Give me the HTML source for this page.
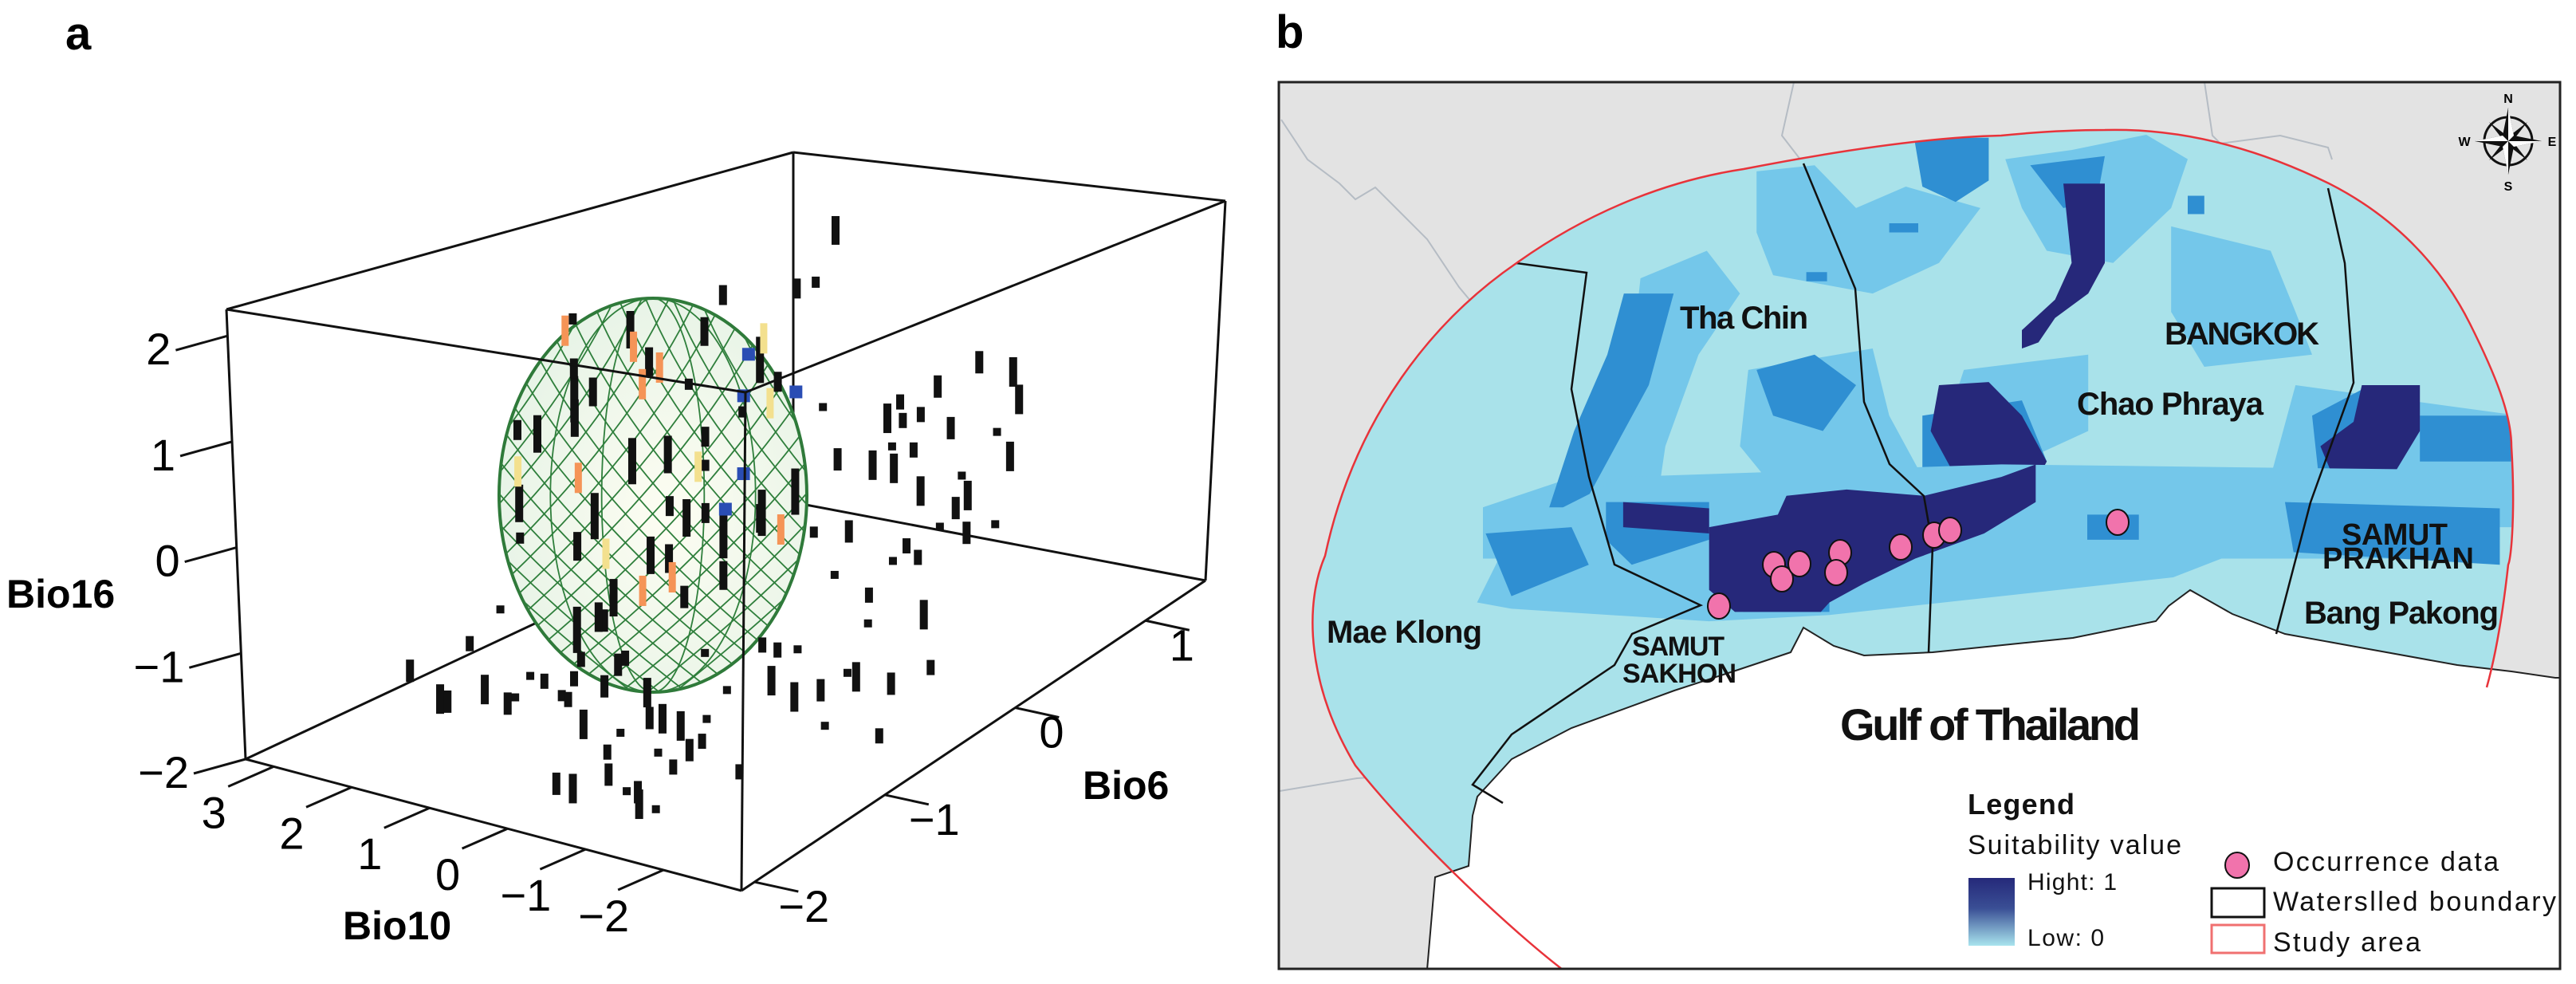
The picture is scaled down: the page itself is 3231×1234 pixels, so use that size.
<!DOCTYPE html>
<html><head><meta charset="utf-8"><style>
html,body{margin:0;padding:0;background:#fff}
svg{display:block}
text{font-family:"Liberation Sans",Arial,sans-serif}
</style></head><body>
<svg id="fig" width="3231" height="1234" viewBox="0 0 3231 1234" xmlns="http://www.w3.org/2000/svg">
<defs>
<clipPath id="ellClip"><ellipse cx="819" cy="621" rx="193" ry="247"/></clipPath>
<radialGradient id="ellFill" cx="0.55" cy="0.55" r="0.6"><stop offset="0" stop-color="#fdfdf2"/><stop offset="1" stop-color="#e6f3e6"/></radialGradient>
<linearGradient id="legGrad" x1="0" y1="0" x2="0" y2="1"><stop offset="0" stop-color="#25297a"/><stop offset="0.45" stop-color="#3a4f95"/><stop offset="1" stop-color="#a9e4ee"/></linearGradient>
<clipPath id="mapClip"><rect x="1604" y="103" width="1607" height="1112"/></clipPath>
<clipPath id="circClip"><path d="M1960,1216 C1900,1170 1780,1060 1700,960 C1640,860 1635,760 1662,697 C1700,520 1800,400 1902,330 C2000,260 2100,225 2187,212 C2300,190 2420,172 2510,170 C2560,165 2600,163 2640,163 C2760,160 2860,200 2921,230 C3000,270 3060,330 3098,406 C3130,470 3150,520 3150,560 C3155,640 3150,700 3146,708 C3138,780 3128,830 3119,862 L3231,1234 Z"/></clipPath>
</defs>

<!-- ================= PANEL A ================= -->
<g id="panelA">
<text x="82" y="62" font-size="58" font-weight="bold">a</text>
<g id="boxBack" stroke="#111" stroke-width="3" fill="none"></g>
<g id="ellipsoid"></g>
<g id="dotsA"></g>
<g id="boxFront" stroke="#111" stroke-width="3" fill="none"></g>
<g id="axesA"></g>
<text x="8" y="762" font-size="50" font-weight="bold">Bio16</text>
<text x="430" y="1178" font-size="50" font-weight="bold">Bio10</text>
<text x="1358" y="1002" font-size="50" font-weight="bold">Bio6</text>
</g>

<!-- ================= PANEL B ================= -->
<g id="panelB">
<text x="1600" y="60" font-size="58" font-weight="bold">b</text>
<g clip-path="url(#mapClip)">
<rect x="1604" y="103" width="1607" height="1112" fill="#e3e3e3"/>
<g stroke="#b5bcc4" stroke-width="2" fill="none">
<polyline points="1607,150 1640,200 1680,230 1700,250 1725,235 1760,270 1790,300 1830,360 1880,420 1902,330"/>
<polyline points="2250,103 2235,170 2262,205"/>
<polyline points="2765,103 2775,170 2785,180 2860,170 2920,185 2925,200"/>
<polyline points="1605,992 1702,976 1820,968"/>
</g>
<g clip-path="url(#circClip)">
<rect x="1604" y="103" width="1607" height="1112" fill="#a9e2ea"/>
<g transform="translate(1600,100) scale(1.04,0.383)">
<g fill="#74c7ea">
<polygon points="580,300 650,280 700,420 760,350 850,420 800,600 720,700 600,640 580,500"/>
<polygon points="880,260 960,230 1050,180 1100,260 1080,420 1010,600 930,560 900,420"/>
<polygon points="1080,480 1200,560 1230,760 1250,900 1120,940 1080,760"/>
<polygon points="330,1568 360,1200 430,900 440,650 520,560 560,700 510,900 470,1200 450,1568"/>
<polygon points="570,950 720,880 740,1100 780,1300 720,1450 620,1400 560,1200"/>
<polygon points="830,950 980,900 980,1150 900,1250 800,1200"/>
<polygon points="1230,1000 1500,1100 1500,1300 1400,1568 1230,1568 1200,1300"/>
<polygon points="940,1380 1250,1400 1300,1568 950,1568"/>
<polygon points="250,1400 360,1300 360,1568 250,1568"/>
</g>
<g fill="#2f8fd2">
<polygon points="420,700 480,700 450,1000 400,1250 370,1400 330,1400 360,1150 400,900"/>
<polygon points="770,190 860,190 860,330 820,400 780,350"/>
<polygon points="580,950 650,900 700,1000 660,1150 600,1100"/>
<polygon points="780,1100 900,1050 930,1250 850,1400 780,1300"/>
<polygon points="910,280 1000,250 990,400 950,420"/>
<polygon points="1250,1100 1320,1000 1320,1350 1260,1350"/>
<polygon points="1380,1100 1490,1100 1490,1250 1380,1250"/>
<polygon points="1100,380 1120,380 1120,440 1100,440"/>
<polygon points="640,630 665,630 665,660 640,660"/>
<polygon points="740,470 775,470 775,500 740,500"/>
</g>
<g fill="#26287a">
<polygon points="950,340 1000,340 1000,600 980,700 940,780 920,860 900,880 900,820 940,720 960,600"/>
<polygon points="800,1000 860,990 900,1100 930,1250 900,1400 850,1420 820,1300 790,1150"/>
<polygon points="1310,1000 1380,1000 1380,1150 1340,1330 1280,1330 1260,1200 1300,1120"/>
</g>
</g>
<g transform="translate(1540,0) scale(1.078,0.787)">
<g fill="#74c7ea">
<polygon points="290,960 330,850 460,760 900,740 1500,750 1500,840 1250,840 1100,920 900,950 700,980 560,990 330,970"/>
</g>
<g fill="#2f8fd2">
<polygon points="440,800 560,800 560,860 470,900 440,860"/>
<polygon points="1230,800 1480,810 1480,900 1240,880"/>
<polygon points="1000,820 1060,820 1060,860 1000,860"/>
<polygon points="300,850 400,840 420,900 330,950"/>
<polygon points="560,940 700,920 700,975 600,975"/>
</g>
<g fill="#26287a">
<polygon points="560,840 640,820 650,790 720,780 810,790 900,760 940,740 940,800 880,850 800,890 740,930 700,960 690,975 590,975 560,940"/>
<polygon points="460,800 560,810 560,850 460,840"/>
</g>
</g>
</g>
<path d="M3231,850 L3205,850 L3150,842 L3082,834 L2960,812 L2866,795 L2800,770 L2747,740 L2720,760 L2704,779 L2600,800 L2424,818 L2338,822 L2300,810 L2262,787 L2246,818 L2180,840 L2100,866 L1971,913 L1896,952 L1853,999 L1847,1023 L1842,1086 L1800,1100 L1790,1216 L3231,1216 Z" fill="#ffffff" stroke="#222" stroke-width="2"/>
<g stroke="#111" stroke-width="2.5" fill="none">
<polyline points="1902,330 1990,342 1971,488 1993,598 2025,708 2133,759 2047,795 2025,834 1896,921 1847,984 1885,1007"/>
<polyline points="2262,205 2327,362 2338,504 2370,582 2413,622 2424,685 2419,818"/>
<polyline points="2920,236 2941,330 2952,480 2898,630 2855,795"/>
</g>
<path d="M1960,1216 C1900,1170 1780,1060 1700,960 C1640,860 1635,760 1662,697 C1700,520 1800,400 1902,330 C2000,260 2100,225 2187,212 C2300,190 2420,172 2510,170 C2560,165 2600,163 2640,163 C2760,160 2860,200 2921,230 C3000,270 3060,330 3098,406 C3130,470 3150,520 3150,560 C3155,640 3150,700 3146,708 C3138,780 3128,830 3119,862" fill="none" stroke="#e8333a" stroke-width="2.5"/>
<g id="occ"></g>
<g font-weight="bold" fill="#111">
<text x="2107" y="412" font-size="40" textLength="161">Tha Chin</text>
<text x="2715" y="432" font-size="40" textLength="194">BANGKOK</text>
<text x="2605" y="520" font-size="40" textLength="234">Chao Phraya</text>
<text x="2937" y="683" font-size="38" textLength="133">SAMUT</text>
<text x="2913" y="713" font-size="38" textLength="190">PRAKHAN</text>
<text x="2890" y="782" font-size="40" textLength="244">Bang Pakong</text>
<text x="1664" y="806" font-size="40" textLength="195">Mae Klong</text>
<text x="2047" y="822" font-size="34" textLength="116">SAMUT</text>
<text x="2035" y="856" font-size="34" textLength="143">SAKHON</text>
<text x="2308" y="928" font-size="56" textLength="377">Gulf of Thailand</text>
</g>
<g id="compass" transform="translate(3146,177)">
<circle r="30" fill="none" stroke="#111" stroke-width="3"/>
<polygon points="0,-42 7,-7 42,0 7,7 0,42 -7,7 -42,0 -7,-7" fill="#111"/>
<polygon points="-24,-24 3,-3 24,24 -3,3" fill="#111"/>
<polygon points="24,-24 3,3 -24,24 -3,-3" fill="#111"/>
<polygon points="0,-42 7,-7 0,0" fill="#fff"/>
<polygon points="42,0 7,7 0,0" fill="#fff"/>
<polygon points="0,42 -7,7 0,0" fill="#fff"/>
<polygon points="-42,0 -7,-7 0,0" fill="#fff"/>
<text x="0" y="-48" font-size="16" font-weight="bold" text-anchor="middle">N</text>
<text x="0" y="62" font-size="16" font-weight="bold" text-anchor="middle">S</text>
<text x="-55" y="6" font-size="16" font-weight="bold" text-anchor="middle">W</text>
<text x="55" y="6" font-size="16" font-weight="bold" text-anchor="middle">E</text>
</g>
<g fill="#111">
<text x="2468" y="1021" font-size="36" font-weight="bold" textLength="134">Legend</text>
<text x="2468" y="1071" font-size="34" textLength="268">Suitability value</text>
<rect x="2469" y="1101" width="58" height="85" fill="url(#legGrad)"/>
<text x="2543" y="1116" font-size="30" textLength="112">Hight: 1</text>
<text x="2543" y="1186" font-size="30" textLength="96">Low: 0</text>
<ellipse cx="2806" cy="1085" rx="15" ry="16" fill="#f173ac" stroke="#111" stroke-width="2"/>
<text x="2851" y="1092" font-size="34" textLength="283">Occurrence data</text>
<rect x="2774" y="1114" width="66" height="36" fill="#fff" stroke="#111" stroke-width="3"/>
<text x="2851" y="1142" font-size="34" textLength="355">Waterslled boundary</text>
<rect x="2774" y="1160" width="66" height="35" fill="#fff" stroke="#f07070" stroke-width="3"/>
<text x="2851" y="1193" font-size="34" textLength="185">Study area</text>
</g>
</g>
<rect x="1604" y="103" width="1607" height="1112" fill="none" stroke="#222" stroke-width="3"/>
</g>
</svg>

<script>
// ---------- Panel a data ----------
const bio10 = [1.5,0.75,1.0,0.25,2.0,1.25,0.5,0.0,1.75,1.0,0.75,1.5,0.25,1.25,0.5,2.25,1.0,0.0,1.75,0.75,1.25,0.25,1.5,0.5,1.0,2.0,0.0,0.75,1.25,1.75,0.25,1.0,1.5,0.5,1.25,0.75,1.75,0.0,1.0,1.5,
  1.0,0.7,0.4,0.1,-0.2,-0.5,-0.7,0.9,0.6,0.3,0.0,-0.3,-0.6,0.8,0.5,0.2,-0.1,-0.4,1.1,0.6,0.0,-0.5,0.3,-0.2,0.8,-0.7,0.4,0.1,-0.3,0.7,
  3.0,2.6,2.2,1.8,1.4,1.0,0.6,0.2,-0.2,-0.6,-1.0,-1.4,-1.8,-2.2,2.8,2.4,2.0,1.6,1.2,0.8,0.4,0.0,-0.4,-0.8,-1.2,-1.6,-2.0,2.5,1.5,0.5,-0.5,-1.5,1.9,0.9,-0.1,-1.1,2.1,1.1,0.1,-0.9,
  0.1,-0.2,-0.5,-0.8,-1.1,-1.4,0.0,-0.3,-0.6,-0.9,-1.2,0.3,-0.4,-0.7,-1.0];
const bio6 = [-0.825,-0.325,-1.075,-0.075,-0.575,0.175,-1.325,-0.575,-0.075,-0.825,0.425,-0.325,-1.075,-0.075,-0.575,-0.825,0.175,-0.325,-1.075,-0.575,-0.075,-0.825,0.425,-0.325,-1.325,0.175,-0.575,-1.075,-0.075,-0.325,-1.575,0.675,-0.825,0.175,-1.325,0.425,-0.575,-0.075,-1.075,-0.325,
  0.6,0.9,1.2,0.7,1.0,1.25,0.8,1.1,0.5,0.95,1.2,0.65,1.05,0.85,1.15,0.55,0.9,1.25,0.75,1.0,0.6,0.9,1.2,0.7,1.0,1.1,0.5,0.8,1.2,0.95,
  -1.2,-1.0,-0.8,-1.3,-0.6,-1.1,-0.4,-0.9,-1.2,-0.5,-0.2,-0.8,-0.3,-0.6,-0.7,-1.3,-0.4,-1.0,-1.4,-0.7,-1.2,-0.3,-0.9,-1.3,-0.5,0.1,-0.9,-0.2,-0.1,-1.4,0.2,-0.4,-1.1,-0.8,-0.6,0.3,-1.4,-1.0,0.0,-0.7,
  -1.7,-1.5,-1.3,-1.6,-1.4,-1.2,-1.3,-1.8,-1.5,-1.2,-1.7,-1.4,-1.6,-1.3,-1.8];
const bio16 = [1.8,1.5,1.2,0.9,0.6,0.3,0.0,-0.3,-0.6,-0.9,1.6,1.1,0.7,0.2,-0.2,-0.5,-0.8,1.3,0.8,0.4,-0.1,-0.4,-1.0,1.9,1.0,0.5,-0.7,0.1,-0.6,1.4,-1.2,2.0,-1.3,1.7,0.3,-1.1,0.9,-0.2,1.5,-0.9,
  0.1,-0.2,-0.5,0.2,-0.8,-0.1,-1.2,-0.4,-1.6,-1.0,0.3,-1.4,-0.3,-0.7,0.0,-1.8,-1.3,0.2,-0.6,-1.7,-0.2,-0.9,-1.4,0.1,-1.9,-0.6,-1.1,-0.4,-1.5,-0.8,
  -1.7,-1.5,-1.9,-1.6,-1.8,-1.5,-1.7,-1.9,-1.6,-1.4,-1.8,-1.5,-1.7,-1.9,-1.4,-1.8,-1.6,-1.7,-1.5,-1.9,-1.4,-1.6,-1.8,-1.5,-1.7,-1.9,-1.6,-1.8,-1.5,-1.4,-1.7,-1.6,-1.9,-1.5,-1.8,-1.6,-1.7,-1.4,-1.9,-1.5,
  -1.9,-1.7,-1.8,-2.0,-1.6,-1.9,-1.7,-1.8,-2.0,-1.7,-1.9,-1.6,-1.8,-1.9,-1.7];
// coloured points inside ellipsoid
const cBio10 = [1.0,0.5,1.5,0.75,1.25,0.25,1.75,1.0,0.75,1.5,0.5,1.25,1.0,0.25,1.5,0.75,1.25,0.5];
const cBio6  = [-0.5,0.0,-0.8,-0.2,0.2,-1.0,-0.5,0.4,-0.8,0.0,-0.2,-0.5,0.2,-0.8,-1.2,0.2,-1.0,-0.2];
const cBio16 = [1.2,0.6,0.2,-0.4,0.9,1.4,-0.8,0.4,1.6,-0.2,0.0,-1.1,1.1,-0.6,0.5,-0.9,1.8,0.8];
const cType  = ["o","y","o","b","b","o","y","b","o","y","b","o","y","o","y","o","o","b"];
const ticks16 = [-2,-1,0,1,2];
const ticks10 = [3,2,1,0,-1,-2];
const ticks6  = [1,0,-1,-2];
const R10 = [3.36,-3.0], R6 = [-2.1,1.46], R16 = [-2,2.25];

const NS="http://www.w3.org/2000/svg";
function mk(tag, attrs, parent){const e=document.createElementNS(NS,tag);for(const k in attrs)e.setAttribute(k,attrs[k]);parent.appendChild(e);return e;}
const C = {
 "000":[308,952],"100":[930,1117],"110":[1512,728],"010":[995,630],
 "001":[284,388],"101":[935,492],"111":[1537,252],"011":[995,191]};
function lerp(a,b,t){return [a[0]+(b[0]-a[0])*t,a[1]+(b[1]-a[1])*t];}
function proj(b10,b6,b16){
  const u=(b10-R10[0])/(R10[1]-R10[0]), v=(b6-R6[0])/(R6[1]-R6[0]), w=(b16-R16[0])/(R16[1]-R16[0]);
  const bf=lerp(C["000"],C["100"],u), bb=lerp(C["010"],C["110"],u);
  const tf=lerp(C["001"],C["101"],u), tb=lerp(C["011"],C["111"],u);
  return lerp(lerp(bf,bb,v),lerp(tf,tb,v),w);
}
function line(g,p,q,extra){return mk("line",Object.assign({x1:p[0],y1:p[1],x2:q[0],y2:q[1]},extra||{}),g);}
const back=document.getElementById("boxBack"), front=document.getElementById("boxFront");
[["010","011"],["011","111"],["111","110"],["010","110"],["000","010"],["001","011"]].forEach(e=>line(back,C[e[0]],C[e[1]]));
[["000","001"],["001","101"],["101","100"],["000","100"],["100","110"],["101","111"]].forEach(e=>line(front,C[e[0]],C[e[1]]));

// ellipsoid
const eg=document.getElementById("ellipsoid");
mk("ellipse",{cx:819,cy:621,rx:193,ry:247,fill:"url(#ellFill)",stroke:"#2f7a3a","stroke-width":4},eg);
const mesh=mk("g",{"clip-path":"url(#ellClip)",stroke:"#2f7f3c","stroke-width":1.8,fill:"none"},eg);
for(let k=-12;k<=12;k++){
  mk("path",{d:`M${600+k*34},360 Q${700+k*34},620 ${1060+k*34},890`},mesh);
  mk("path",{d:`M${1050+k*34},360 Q${930+k*34},620 ${580+k*34},890`},mesh);
}
for(let k=2;k<6;k+=2){mk("ellipse",{cx:819,cy:621,rx:193*k/6,ry:247},mesh);}

// points
const dg=document.getElementById("dotsA");
for(let i=0;i<bio10.length;i++){
  const p=proj(bio10[i],bio6[i],bio16[i]);
  const h = i<40 ? 14+((i*7)%5)*11 : 10+((i*3)%4)*9;
  const r=mk("rect",{x:p[0]-5,y:p[1]-h/2,width:10,height:h,fill:"#111"},dg);
  
  
}
const cCol={o:"#f59457",y:"#f3e08e",b:"#2a4db4"};
for(let i=0;i<cBio10.length;i++){
  const p=proj(cBio10[i],cBio6[i],cBio16[i]);
  const h=cType[i]==="b"?16:38;
  const r=mk("rect",{x:p[0]-5,y:p[1]-h/2,width:cType[i]==="b"?16:9,height:h,fill:cCol[cType[i]]},dg);
  
  
}

// axes ticks
const ax=document.getElementById("axesA");
ticks16.forEach(t=>{
  const p=proj(R10[0],R6[0],t); const q=[p[0]-65,p[1]+18];
  const l=line(ax,p,q,{stroke:"#111","stroke-width":3});
  
  
  const tx=mk("text",{x:q[0]-6,y:q[1]+18,"font-size":56,"text-anchor":"end"},ax);
  tx.textContent=(t<0?"\u2212":"")+Math.abs(t);
  
  
});
ticks10.forEach(t=>{
  const p=proj(t,R6[0],R16[0]); const q=[p[0]-57,p[1]+25];
  const l=line(ax,p,q,{stroke:"#111","stroke-width":3});
  
  
  const tx=mk("text",{x:q[0]-18,y:q[1]+52,"font-size":56,"text-anchor":"middle"},ax);
  tx.textContent=(t<0?"\u2212":"")+Math.abs(t);
  
  
});
ticks6.forEach(t=>{
  const p=proj(R10[1],t,R16[0]); const q=[p[0]+55,p[1]+12];
  const l=line(ax,p,q,{stroke:"#111","stroke-width":3});
  
  
  const tx=mk("text",{x:p[0]+30,y:p[1]+50,"font-size":56,"text-anchor":"start"},ax);
  tx.textContent=(t<0?"\u2212":"")+Math.abs(t);
  
  
});

// ---------- Panel b occurrence data (map pixel coords) ----------
const occX = [2156,2225,2235,2257,2308,2303,2384,2426,2446,2656];
const occY = [760,708,726,707,693,718,686,671,665,655];
const og=document.getElementById("occ");
for(let i=0;i<occX.length;i++){
  const c=mk("ellipse",{cx:occX[i],cy:occY[i],rx:14,ry:16,fill:"#f173ac",stroke:"#111","stroke-width":2},og);
  
  
}
</script>
</body></html>
